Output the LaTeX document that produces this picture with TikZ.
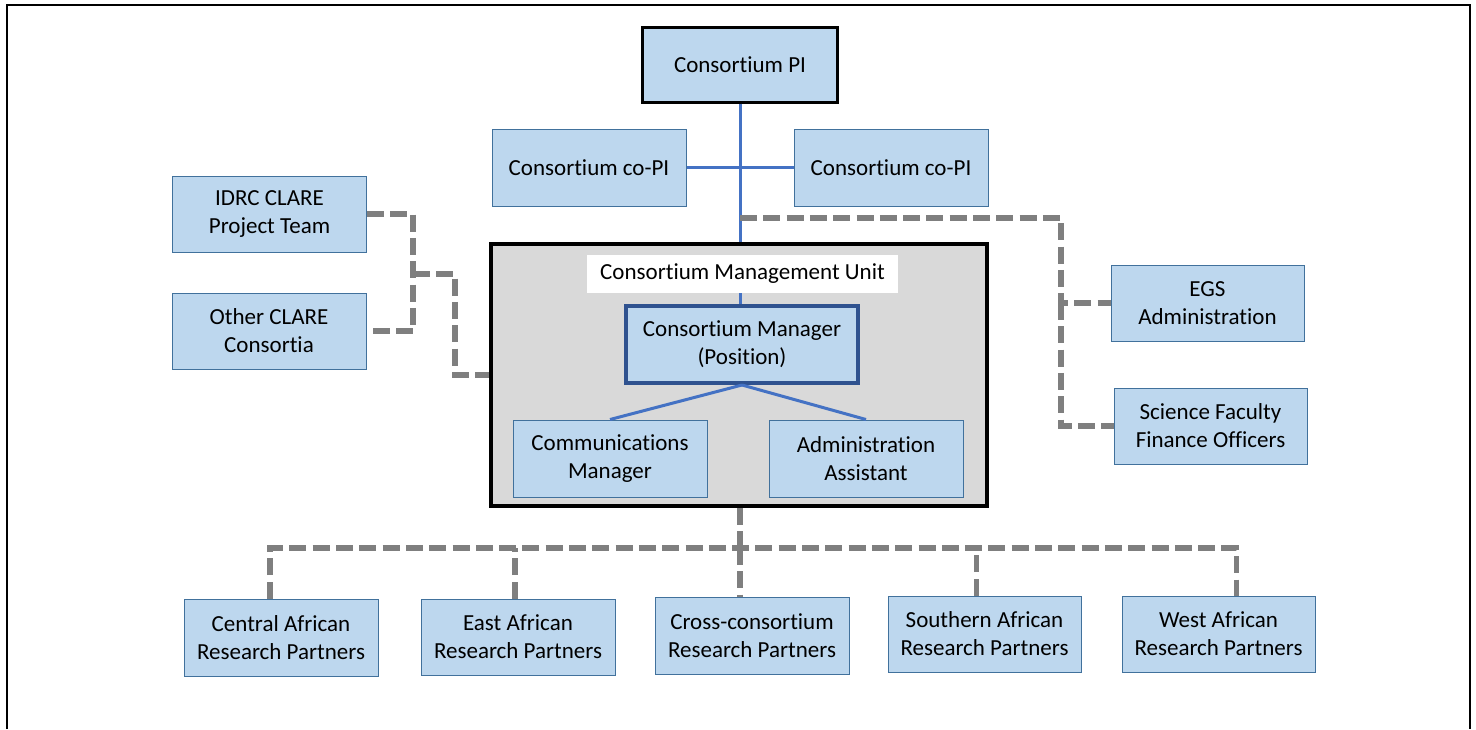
\documentclass[tikz,border=0pt]{standalone}
\usepackage{fontspec}
\setmainfont{Carlito}[Ligatures={NoCommon}]
\usetikzlibrary{calc}
\definecolor{boxfill}{HTML}{BDD7EE}
\definecolor{boxedge}{HTML}{41719C}
\definecolor{unitfill}{HTML}{D9D9D9}
\definecolor{linkblue}{HTML}{4472C4}
\definecolor{mgredge}{HTML}{2F528F}
\definecolor{dashgrey}{HTML}{7F7F7F}
\begin{document}
\begin{tikzpicture}[x=1pt,y=-1pt,
  role/.style={draw=boxedge,line width=1pt,fill=boxfill,align=center,
    inner sep=0pt,minimum width=194pt,minimum height=77pt,
    font=\fontsize{23}{28}\selectfont},
  lead/.style={role,draw=black,line width=3pt,minimum width=195pt,minimum height=75pt},
  manager/.style={role,draw=mgredge,line width=4pt,minimum width=232pt,minimum height=77pt},
  unit/.style={draw=black,line width=3.5pt,fill=unitfill,inner sep=0pt,
    minimum width=496pt,minimum height=262pt},
  unitlabel/.style={fill=white,inner sep=0pt,minimum width=311pt,minimum height=38pt,
    font=\fontsize{23}{28}\selectfont},
  solidlink/.style={draw=linkblue,line width=3pt},
  dashlink/.style={draw=dashgrey,line width=5.3pt,dash pattern=on 17pt off 6.3pt,line join=miter}]
\useasboundingbox (0,0) rectangle (1476,729);
% page frame
\draw[line width=2pt] (7,729) -- (7,5) -- (1470,5) -- (1470,729);

% leadership
\node[lead] (pi) at (740,64.5) {Consortium PI};
\node[role] (copiL) at (589,167.5) {Consortium co-PI};
\node[role] (copiR) at (891,167.5) {Consortium co-PI};

% management unit
\node[unit] (cmu) at (739,375) {};
\draw[solidlink] (pi.south) -- (pi.south |- cmu.north);
\draw[solidlink] (copiL.east) -- (copiR.west);
\node[unitlabel] (cmulabel) at (742.5,274) {Consortium Management Unit};
\node[manager] (cm) at (742,344.5) {Consortium Manager\\(Position)};
\draw[solidlink] (cmulabel.south -| pi.south) -- (cm.north -| pi.south);
\node[role] (comm) at (610,458.5) {Communications\\Manager};
\node[role] (admin) at (866,458.5) {Administration\\Assistant};
\draw[solidlink] (cm.south) -- (comm.north);
\draw[solidlink] (cm.south) -- (admin.north);

% CLARE partners on the left
\node[role,minimum height=76pt] (idrc) at (269.5,214) {IDRC CLARE\\Project Team};
\node[role,minimum height=76pt] (other) at (269,331) {Other CLARE\\Consortia};
\coordinate (jl) at (413,274);
\coordinate (jl2) at (455,375);
\draw[dashlink] (idrc.east) -| (jl) |- (other.east);
\draw[dashlink] (jl) -| (jl2) -- (cmu.west);

% university administration on the right
\node[role,minimum width=193pt,minimum height=76pt] (egs) at (1207.5,303) {EGS\\Administration};
\node[role,minimum width=193pt,minimum height=76pt] (sci) at (1210.5,426) {Science Faculty\\Finance Officers};
\coordinate (jr) at (740,218);
\coordinate (jr2) at (1061,303);
\draw[dashlink] (jr) -| (jr2) -- (egs.west);
\draw[dashlink] (jr2) |- (sci.west);

% research partners
\node[role] (central) at (281,637.5) {Central African\\Research Partners};
\node[role,minimum height=76pt] (east) at (518,637) {East African\\Research Partners};
\node[role] (cross) at (752,636) {Cross-consortium\\Research Partners};
\node[role,minimum width=193pt,minimum height=76pt] (south) at (984.5,634) {Southern African\\Research Partners};
\node[role,minimum width=193pt,minimum height=76pt] (west) at (1218.5,634) {West African\\Research Partners};
\coordinate (jb) at (740,548);
\draw[dashlink] (cmu.south -| jb) -- (jb);
\draw[dashlink] ($(central.north)+(-11,0)$) |- (jb) -| ($(west.north)+(18,0)$);
\draw[dashlink] (jb) -- (jb |- cross.north);
\draw[dashlink] ($(east.north)+(-3,0)$) -- ($(east.north |- jb)+(-3,0)$);
\draw[dashlink] ($(south.north)+(-8,0)$) -- ($(south.north |- jb)+(-8,0)$);
\end{tikzpicture}
\end{document}
